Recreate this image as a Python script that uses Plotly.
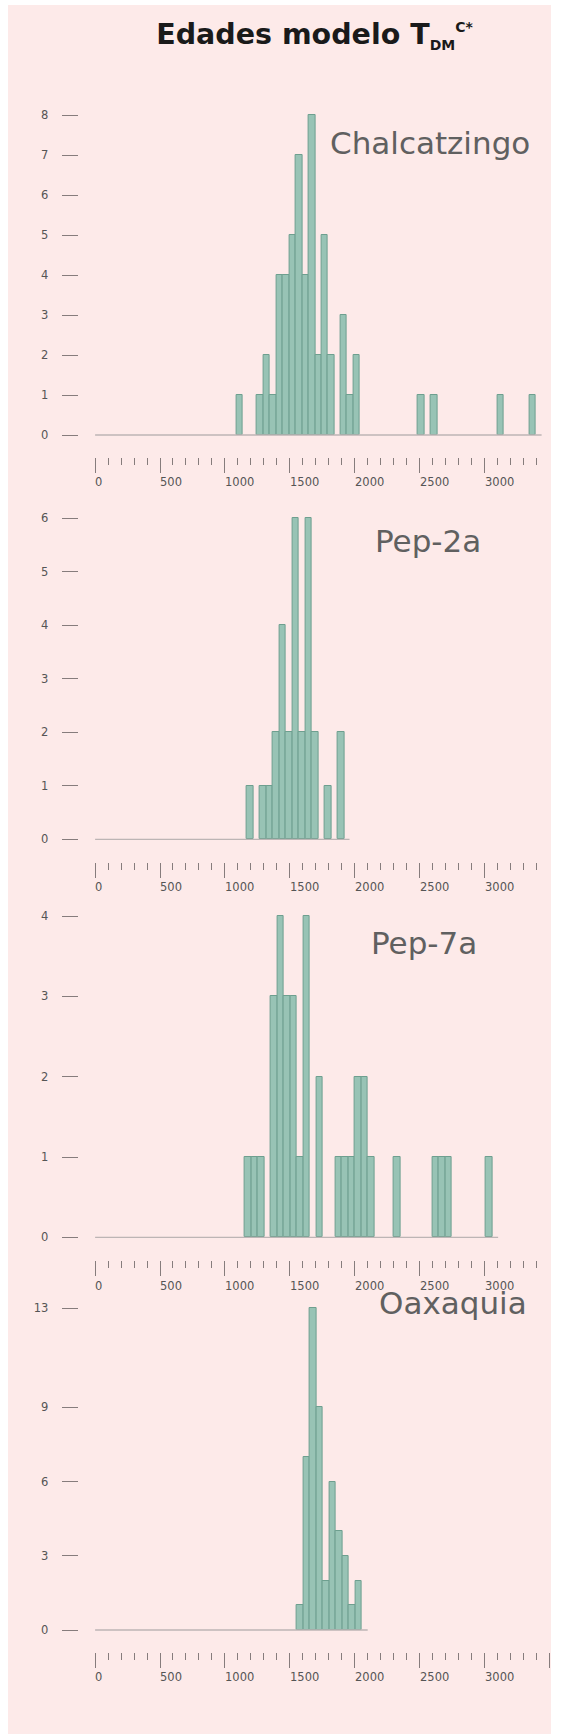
import plotly.graph_objects as go

# ---------------- data ----------------
sites = ["Chalcatzingo", "Pep-2a", "Pep-7a", "Oaxaquia"]
bin_width = 50  # Ma

# left edge of each non-empty bin (Ma) and its count
chalcatzingo_bins = [1090, 1245, 1295, 1345, 1395, 1445, 1495, 1545, 1595, 1645,
                     1695, 1745, 1795, 1890, 1940, 1990, 2485, 2585, 3100, 3345]
chalcatzingo_counts = [1, 1, 2, 1, 4, 4, 5, 7, 4, 8, 2, 5, 2, 3, 1, 2, 1, 1, 1, 1]

pep2a_bins = [1170, 1270, 1320, 1370, 1420, 1470, 1520, 1570, 1620, 1670, 1770, 1870]
pep2a_counts = [1, 1, 1, 2, 4, 2, 6, 2, 6, 2, 1, 2]

pep7a_bins = [1155, 1205, 1255, 1355, 1405, 1455, 1505, 1555, 1605, 1705, 1850,
              1900, 1950, 2000, 2050, 2100, 2300, 2600, 2650, 2700, 3010]
pep7a_counts = [1, 1, 1, 3, 4, 3, 3, 1, 4, 2, 1, 1, 1, 2, 2, 1, 1, 1, 1, 1, 1]

oaxaquia_bins = [1555, 1605, 1655, 1705, 1755, 1805, 1855, 1905, 1955, 2005]
oaxaquia_counts = [1, 7, 13, 9, 2, 6, 4, 3, 1, 2]

# end of the empty-bin line along y = 0 for each histogram
baseline_end = [3440, 1960, 3105, 2100]

# y-axis ticks per panel
y_ticks = [
    [0, 1, 2, 3, 4, 5, 6, 7, 8],
    [0, 1, 2, 3, 4, 5, 6],
    [0, 1, 2, 3, 4],
    [0, 3, 6, 9, 13],
]

# x-axis: labelled ticks and the last tick drawn on each ruler
x_label_values = [0, 500, 1000, 1500, 2000, 2500, 3000]
x_axis_end = [3400, 3400, 3400, 3500]

bins = [chalcatzingo_bins, pep2a_bins, pep7a_bins, oaxaquia_bins]
counts = [chalcatzingo_counts, pep2a_counts, pep7a_counts, oaxaquia_counts]

# ---------------- layout geometry (pixels) ----------------
W, H = 581, 1734
X_LEFT_PX, X_RIGHT_PX = 78.6, 551.0     # plot area horizontal extent
X0_PX, PX_PER_MA = 95.1, 0.1298          # where 0 Ma sits and the scale
x_range = [(X_LEFT_PX - X0_PX) / PX_PER_MA, (X_RIGHT_PX - X0_PX) / PX_PER_MA]
X_LABEL_DROP = 25.5                      # ruler top to label centre

panels = [
    dict(zero=435.0, unit=40.0, top=100.0, axis=456.7, lab_x=328.4, lab_y=143.5),
    dict(zero=839.3, unit=53.5, top=505.0, axis=861.7, lab_x=372.6, lab_y=541.0),
    dict(zero=1237.3, unit=80.3, top=900.0, axis=1260.0, lab_x=368.9, lab_y=943.0),
    dict(zero=1630.0, unit=24.75, top=1298.0, axis=1651.7, lab_x=377.0, lab_y=1302.5),
]

BAR_FILL = "#98C3B5"
BAR_EDGE = "#6E9F8F"
BASE_LINE = "#BDB5B5"
TICK_COLOR = "#867C7C"
TEXT_COLOR = "#555555"
LABEL_COLOR = "#606060"
PANEL_BG = "#FDEAE9"
TICK_FONT = dict(family="DejaVu Sans", size=11.5, color=TEXT_COLOR)

fig = go.Figure()
layout_axes = {}
annotations = []

for i, p in enumerate(panels):
    k = "" if i == 0 else str(i + 1)
    xa, ya = "x" + k, "y" + k

    # zero line running under the empty bins
    fig.add_trace(go.Scatter(
        x=[0, baseline_end[i]], y=[0, 0], mode="lines",
        line=dict(color=BASE_LINE, width=1.3),
        hoverinfo="skip", showlegend=False, xaxis=xa, yaxis=ya,
    ))
    # histogram bars
    fig.add_trace(go.Bar(
        x=[b + bin_width / 2 for b in bins[i]], y=counts[i], width=bin_width,
        marker=dict(color=BAR_FILL, line=dict(color=BAR_EDGE, width=1)),
        showlegend=False, xaxis=xa, yaxis=ya,
    ))

    majors = list(range(0, x_axis_end[i] + 1, 500))
    minors = [v for v in range(100, x_axis_end[i] + 1, 100) if v % 500]

    layout_axes["xaxis" + k] = dict(
        domain=[X_LEFT_PX / W, X_RIGHT_PX / W], range=x_range, anchor=ya,
        showgrid=False, zeroline=False, showline=False,
        tickmode="array", tickvals=majors, showticklabels=False,
        ticks="outside", ticklen=15, tickwidth=1.3, tickcolor=TICK_COLOR,
        minor=dict(tickmode="array", tickvals=minors, ticks="outside",
                   ticklen=7, tickwidth=1.3, tickcolor=TICK_COLOR),
        fixedrange=True,
    )
    layout_axes["yaxis" + k] = dict(
        domain=[1 - p["axis"] / H, 1 - p["top"] / H],
        range=[-(p["axis"] - p["zero"]) / p["unit"], (p["zero"] - p["top"]) / p["unit"]],
        anchor=xa, showgrid=False, zeroline=False, showline=False,
        tickmode="array", tickvals=y_ticks[i],
        ticks="outside", ticklen=16, tickwidth=1.4, tickcolor=TICK_COLOR,
        tickfont=TICK_FONT, ticklabelstandoff=11, fixedrange=True,
    )

    # ruler labels start at their tick, below it
    for v in x_label_values:
        annotations.append(dict(
            text=str(v), xref=xa, yref="paper", x=v,
            y=1 - (p["axis"] + X_LABEL_DROP) / H,
            xanchor="left", yanchor="middle", xshift=-2,
            showarrow=False, font=TICK_FONT,
        ))

    annotations.append(dict(
        text=sites[i], xref="paper", yref="paper",
        x=p["lab_x"] / W, y=1 - p["lab_y"] / H, xanchor="left", yanchor="middle",
        showarrow=False,
        font=dict(family="DejaVu Sans", size=31, color=LABEL_COLOR),
    ))

title_text = ("<b>Edades modelo T"
              "<sub><span style='font-size:14px'>DM</span></sub>"
              "<sup><span style='font-size:14px'>C*</span></sup></b>")

fig.update_layout(
    width=W, height=H, margin=dict(l=0, r=0, t=0, b=0),
    paper_bgcolor="white", plot_bgcolor="rgba(0,0,0,0)",
    bargap=0, showlegend=False,
    title=dict(
        text=title_text,
        x=314.5 / W, xanchor="center", y=1 - 34 / H, yanchor="middle",
        font=dict(family="DejaVu Sans", size=28.5, color="#1A1A1A"),
    ),
    shapes=[dict(type="rect", xref="paper", yref="paper",
                 x0=8 / W, x1=551 / W, y0=0, y1=1 - 5 / H,
                 fillcolor=PANEL_BG, line=dict(width=0), layer="below")],
    annotations=annotations,
    **layout_axes,
)

fig.write_html("out.html")
